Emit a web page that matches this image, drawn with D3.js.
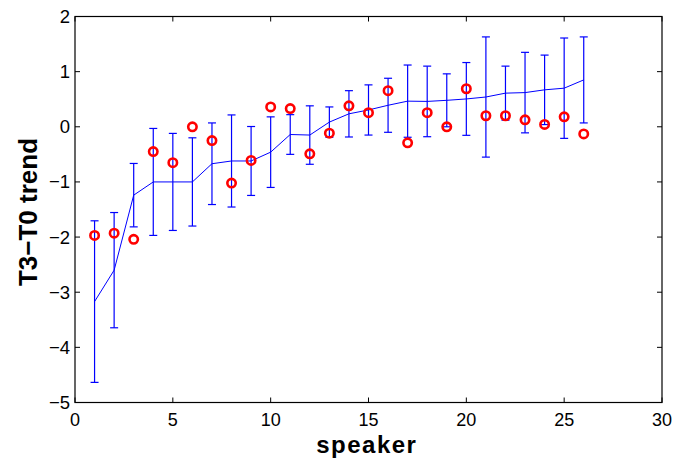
<!DOCTYPE html>
<html><head><meta charset="utf-8">
<script src="https://cdn.jsdelivr.net/npm/d3@7"></script>
<style>body{margin:0;background:#fff}svg{display:block}</style>
</head><body>
<svg id="c" width="673" height="459"></svg>
<script>
const speakers = d3.range(1, 27);
const meanTrend = [-3.17, -2.60, -1.24, -1.00, -1.00, -1.00, -0.67, -0.62, -0.62, -0.46, -0.14, -0.15, 0.085, 0.235, 0.305, 0.39, 0.465, 0.46, 0.48, 0.505, 0.54, 0.61, 0.62, 0.67, 0.70, 0.85];
const errHalf = [1.465, 1.045, 0.575, 0.97, 0.88, 0.80, 0.74, 0.835, 0.625, 0.64, 0.36, 0.53, 0.275, 0.42, 0.455, 0.49, 0.655, 0.64, 0.48, 0.66, 1.09, 0.49, 0.73, 0.63, 0.91, 0.78];
const observed = [-1.97, -1.93, -2.04, -0.45, -0.65, 0.0, -0.25, -1.02, -0.61, 0.36, 0.33, -0.49, -0.115, 0.38, 0.255, 0.655, -0.29, 0.255, 0.0, 0.69, 0.2, 0.2, 0.127, 0.043, 0.18, -0.13];
const xTicks = [0, 5, 10, 15, 20, 25, 30];
const yTicks = [-5, -4, -3, -2, -1, 0, 1, 2];

const L = 75, R = 662, T = 16.5, B = 402.5;
const svg = d3.select("#c");
const x = d3.scaleLinear().domain([0, 30]).range([L, R]);
const y = d3.scaleLinear().domain([-5, 2]).range([B, T]);
const font = "Helvetica, 'Liberation Sans', Arial, sans-serif";
const blue = "#0000ff";

// error bars
const eb = svg.append("g").attr("stroke", blue).attr("stroke-width", 1.2).attr("fill", "none");
speakers.forEach((s, i) => {
  const top = meanTrend[i] + errHalf[i], bot = meanTrend[i] - errHalf[i];
  eb.append("line").attr("x1", x(s)).attr("x2", x(s)).attr("y1", y(top)).attr("y2", y(bot));
  eb.append("line").attr("x1", x(s) - 4).attr("x2", x(s) + 4).attr("y1", y(top)).attr("y2", y(top));
  eb.append("line").attr("x1", x(s) - 4).attr("x2", x(s) + 4).attr("y1", y(bot)).attr("y2", y(bot));
});
// mean line
svg.append("path")
  .datum(speakers.map((s, i) => [s, meanTrend[i]]))
  .attr("fill", "none").attr("stroke", blue).attr("stroke-width", 1)
  .attr("d", d3.line().x(d => x(d[0])).y(d => y(d[1])));
// observed circles
svg.append("g").selectAll("circle").data(speakers).join("circle")
  .attr("cx", s => x(s)).attr("cy", (s, i) => y(observed[i]))
  .attr("r", 4.2).attr("fill", "none").attr("stroke", "#ff0000").attr("stroke-width", 2.6);

// axes box
const ax = svg.append("g");
ax.append("rect").attr("x", L).attr("y", T).attr("width", R - L).attr("height", B - T)
  .attr("fill", "none").attr("stroke", "#000").attr("stroke-width", 1.2);
const tk = 5;
xTicks.forEach(v => {
  ax.append("line").attr("x1", x(v)).attr("x2", x(v)).attr("y1", B).attr("y2", B - tk).attr("stroke", "#000");
  ax.append("line").attr("x1", x(v)).attr("x2", x(v)).attr("y1", T).attr("y2", T + tk).attr("stroke", "#000");
  ax.append("text").attr("x", x(v)).attr("y", 425.5).attr("text-anchor", "middle")
    .attr("font-family", font).attr("font-size", 18).text(v);
});
yTicks.forEach(v => {
  ax.append("line").attr("x1", L).attr("x2", L + tk).attr("y1", y(v)).attr("y2", y(v)).attr("stroke", "#000");
  ax.append("line").attr("x1", R).attr("x2", R - tk).attr("y1", y(v)).attr("y2", y(v)).attr("stroke", "#000");
  ax.append("text").attr("x", 70).attr("y", y(v)).attr("dy", "0.35em").attr("text-anchor", "end")
    .attr("font-family", font).attr("font-size", 18.5).text(v < 0 ? "\u2212" + Math.abs(v) : v);
});
svg.append("text").attr("x", 366.8).attr("y", 452.5).attr("text-anchor", "middle")
  .attr("font-family", font).attr("font-weight", "bold").attr("font-size", 24)
  .attr("letter-spacing", 1.5).text("speaker");
svg.append("text").attr("transform", "translate(37,212) rotate(-90)").attr("text-anchor", "middle")
  .attr("font-family", font).attr("font-weight", "bold").attr("font-size", 26).text("T3\u2212T0 trend");
</script>
</body></html>
